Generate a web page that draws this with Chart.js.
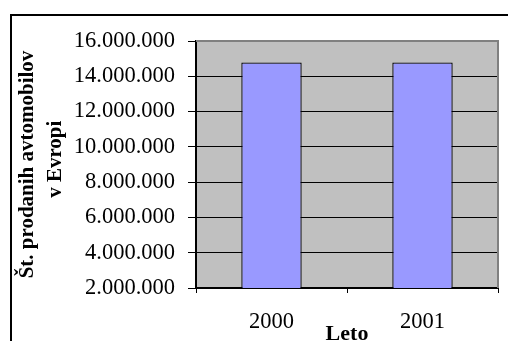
<!DOCTYPE html>
<html>
<head>
<meta charset="utf-8">
<script src="https://cdn.jsdelivr.net/npm/chart.js@4/dist/chart.umd.min.js"></script>
<style>
  html, body { margin: 0; padding: 0; background: #fff; }
  #wrap { width: 508px; height: 341px; position: relative; }
</style>
</head>
<body>
<div id="wrap"><canvas id="c"></canvas></div>
<script>
// Car sales in Europe per year
const years = ['2000', '2001'];
const carSales = [14780000, 14780000];
const axisMin = 2000000;
const axisMax = 16000000;
const axisStep = 2000000;
const xTitle = 'Leto';
const yTitle = ['Št. prodanih avtomobilov', '\u00a0\u00a0v Evropi'];

function withDots(v) {
  return String(Math.round(v)).replace(/\B(?=(\d{3})+(?!\d))/g, '.');
}

// white page with the outer frame, grey plot area underneath the grid
const frame = {
  id: 'frame',
  beforeDraw(chart) {
    const ctx = chart.ctx;
    const a = chart.chartArea;
    ctx.save();
    ctx.fillStyle = '#fff';
    ctx.fillRect(0, 0, chart.width, chart.height);
    ctx.strokeStyle = '#000';
    ctx.lineWidth = 2;
    ctx.strokeRect(11, 15, chart.width + 40, chart.height + 40);
    ctx.fillStyle = '#c0c0c0';
    ctx.fillRect(a.left, a.top, a.right - a.left, a.bottom - a.top);
    ctx.restore();
  },
  beforeDatasetsDraw(chart) {
    const ctx = chart.ctx;
    const a = chart.chartArea;
    ctx.save();
    ctx.strokeStyle = '#808080';
    ctx.lineWidth = 2;
    ctx.beginPath();
    ctx.moveTo(a.left, a.top);
    ctx.lineTo(a.right, a.top);
    ctx.lineTo(a.right, a.bottom);
    ctx.stroke();
    ctx.restore();
  }
};

Chart.defaults.color = '#000';
Chart.defaults.font.family = '"Liberation Serif", "Times New Roman", serif';

new Chart(document.getElementById('c'), {
  type: 'bar',
  data: {
    labels: years,
    datasets: [{
      data: carSales,
      backgroundColor: '#9999ff',
      borderColor: '#000',
      borderWidth: 1.3,
      categoryPercentage: 1,
      barPercentage: 0.4
    }]
  },
  options: {
    responsive: true,
    maintainAspectRatio: false,
    animation: false,
    layout: { padding: { left: 0, top: 41, right: 10, bottom: 0 } },
    plugins: { legend: { display: false }, tooltip: { enabled: false } },
    scales: {
      x: {
        afterFit(scale) { scale.height = 53; },
        grid: { drawOnChartArea: false, color: '#000', tickColor: '#000', tickLength: 5, lineWidth: 1 },
        border: { display: true, color: '#000', width: 2 },
        ticks: { font: { size: 22.5 }, padding: 16 },
        title: {
          display: true,
          text: xTitle,
          font: { size: 22, weight: 'bold', lineHeight: 0.8 },
          padding: { top: 0, bottom: -2 }
        }
      },
      y: {
        min: axisMin,
        max: axisMax,
        afterFit(scale) { scale.width = 196; },
        grid: {
          color: (c) => (c.tick && c.tick.value === axisMax) ? 'rgba(0,0,0,0)' : '#000',
          tickColor: '#000',
          tickLength: 8,
          lineWidth: 1
        },
        border: { display: true, color: '#000', width: 2 },
        ticks: {
          stepSize: axisStep,
          font: { size: 22.5 },
          padding: 13,
          callback: (v) => withDots(v)
        },
        title: {
          display: true,
          text: yTitle,
          font: { size: 21, weight: 'bold', lineHeight: 1.35 },
          padding: { top: 13, bottom: 0 }
        }
      }
    }
  },
  plugins: [frame]
});
</script>
</body>
</html>
